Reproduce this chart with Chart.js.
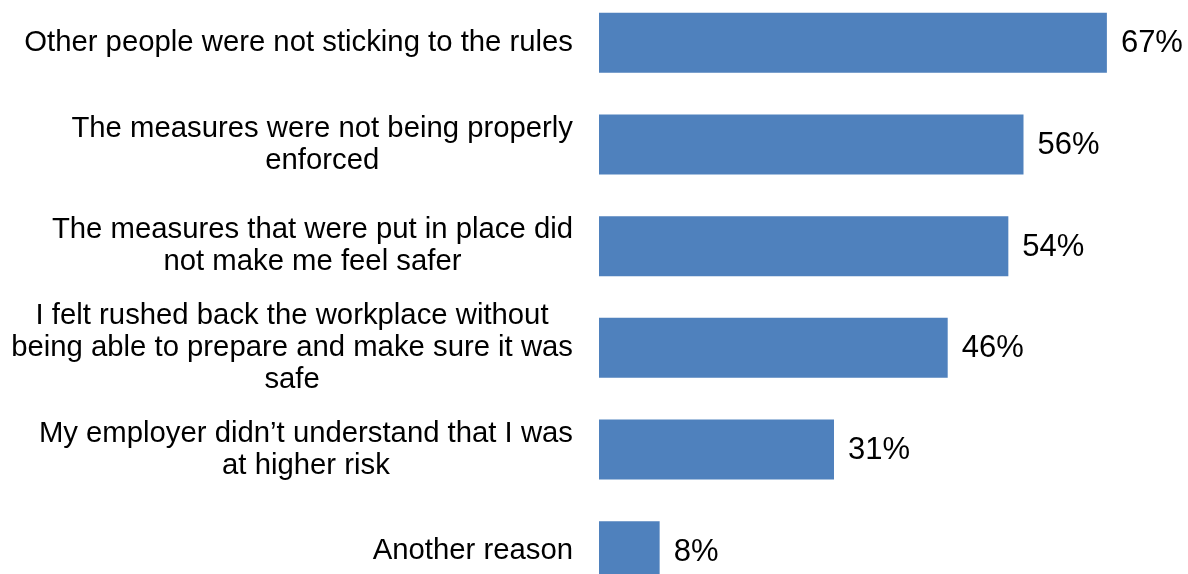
<!DOCTYPE html>
<html>
<head>
<meta charset="utf-8">
<script src="https://cdn.jsdelivr.net/npm/chart.js@4/dist/chart.umd.min.js"></script>
<style>
  html, body { margin: 0; padding: 0; background: #ffffff; overflow: hidden; }
  #wrap { position: absolute; left: 0; top: -8px; width: 1188px; height: 610px; }
</style>
</head>
<body>
<div id="wrap"><canvas id="chart" width="1188" height="610"></canvas></div>
<script>
// Reasons given, one entry per bar (each inner array is one wrapped label)
const categories = [
  ["Other people were not sticking to the rules"],
  ["The measures were not being properly", "enforced"],
  ["The measures that were put in place did", "not make me feel safer"],
  ["I felt rushed back the workplace without", "being able to prepare and make sure it was", "safe"],
  ["My employer didn\u2019t understand that I was", "at higher risk"],
  ["Another reason"]
];

// Share of respondents, percent
const values = [67, 56, 54, 46, 31, 8];

const BAR_COLOR = "#4F81BD";
const FONT_FAMILY = "'Liberation Sans', Arial, Helvetica, sans-serif";
const LABEL_SIZE = 29.3;
const LABEL_LINE = 32;
const VALUE_SIZE = 31;
const LABEL_RIGHT = 573;   // right edge of each label block
const AXIS_WIDTH = 599;    // where the bars start

// Category labels: each block is right-aligned, its lines centred within it
const categoryLabels = {
  id: "categoryLabels",
  afterDraw(chart) {
    const ctx = chart.ctx;
    const y = chart.scales.y;
    ctx.save();
    ctx.font = LABEL_SIZE + "px " + FONT_FAMILY;
    ctx.fillStyle = "#000000";
    ctx.textAlign = "center";
    ctx.textBaseline = "middle";
    categories.forEach((lines, i) => {
      const cy = y.getPixelForValue(i);
      const widest = Math.max(...lines.map(l => ctx.measureText(l).width));
      const cx = LABEL_RIGHT - widest / 2;
      const top = cy - (lines.length - 1) * LABEL_LINE / 2;
      lines.forEach((line, j) => ctx.fillText(line, cx, top + j * LABEL_LINE));
    });
    ctx.restore();
  }
};

// Percentage printed just past the end of each bar
const valueLabels = {
  id: "valueLabels",
  afterDatasetsDraw(chart) {
    const ctx = chart.ctx;
    const meta = chart.getDatasetMeta(0);
    ctx.save();
    ctx.font = VALUE_SIZE + "px " + FONT_FAMILY;
    ctx.fillStyle = "#000000";
    ctx.textAlign = "left";
    ctx.textBaseline = "middle";
    meta.data.forEach((bar, i) => {
      ctx.fillText(values[i] + "%", bar.x + 14, bar.y + 1);
    });
    ctx.restore();
  }
};

new Chart(document.getElementById("chart"), {
  type: "bar",
  data: {
    labels: categories,
    datasets: [{
      data: values,
      backgroundColor: BAR_COLOR,
      borderWidth: 0,
      barPercentage: 0.59,
      categoryPercentage: 1.0
    }]
  },
  options: {
    indexAxis: "y",
    responsive: false,
    animation: false,
    events: [],
    layout: { padding: 0 },
    plugins: {
      legend: { display: false },
      tooltip: { enabled: false },
      title: { display: false }
    },
    scales: {
      x: {
        display: false,
        min: 0,
        max: 77.7
      },
      y: {
        grid: { display: false },
        border: { display: false },
        ticks: { display: false, autoSkip: false },
        afterFit(scale) { scale.width = AXIS_WIDTH; }
      }
    }
  },
  plugins: [categoryLabels, valueLabels]
});
</script>
</body>
</html>
